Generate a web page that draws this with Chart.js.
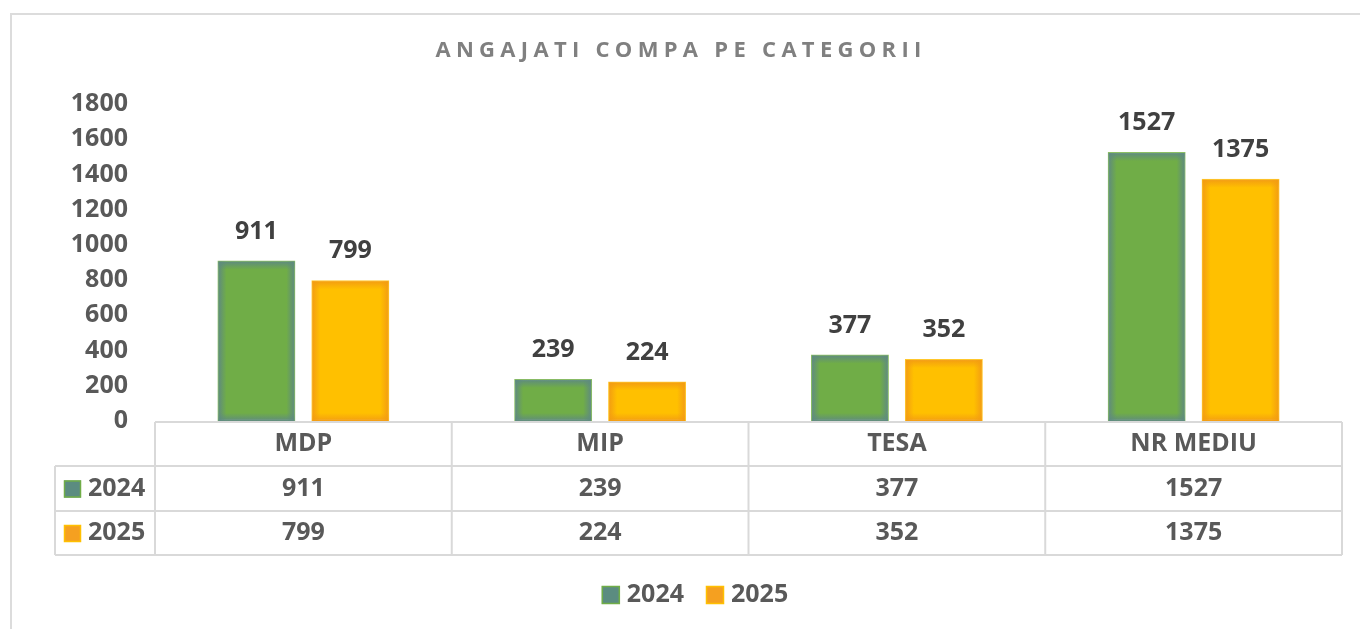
<!DOCTYPE html>
<html><head><meta charset="utf-8">
<script src="https://cdn.jsdelivr.net/npm/chart.js@4.4.1/dist/chart.umd.min.js"></script>
<style>
html,body{margin:0;padding:0;background:#fff;overflow:hidden}
#wrap{position:relative;width:1360px;height:629px;overflow:hidden}
#frame{position:absolute;left:10px;top:13px;width:1400px;height:700px;border:2px solid #dcdcdc;box-sizing:border-box}
canvas{position:absolute;left:0;top:0}
</style></head><body>
<div id="wrap"><div id="frame"></div><canvas id="c" width="1360" height="629"></canvas></div>
<script>
const chartTitle = 'ANGAJATI COMPA PE CATEGORII';
const categories = ['MDP','MIP','TESA','NR MEDIU'];
const seriesNames = ['2024','2025'];
const values2024 = [911,239,377,1527];
const values2025 = [799,224,352,1375];
const yTicks = [0,200,400,600,800,1000,1200,1400,1600,1800];

const FONT = '"Open Sans", sans-serif';
const fill = ['#70AD47','#FFC000'];
const outline = ['#8CC063','#FFC72C'];
const glow = [[94,138,128],[243,156,18]];
const legendFill = ['#5B8C80','#F5A020'];
const legendLine = ['#70AD47','#FFC000'];
const gridCol = '#d9d9d9';

function rgba(c,a){ return `rgba(${c[0]},${c[1]},${c[2]},${a})`; }
function glowBar(ctx,l,t,w,h,c){
  const g = Math.min(8, w/2, h/2);
  const sides = [[l,0,l+g,0,l,t,g,h],[l+w,0,l+w-g,0,l+w-g,t,g,h],[0,t,0,t+g,l,t,w,g],[0,t+h,0,t+h-g,l,t+h-g,w,g]];
  sides.forEach(s=>{
    const gr = ctx.createLinearGradient(s[0],s[1],s[2],s[3]);
    gr.addColorStop(0,rgba(c,0.95)); gr.addColorStop(1,rgba(c,0));
    ctx.fillStyle = gr; ctx.fillRect(s[4],s[5],s[6],s[7]);
  });
}

const extras = {
  id:'extras',
  afterDatasetsDraw(chart){
    const ctx = chart.ctx;
    ctx.save();
    chart.data.datasets.forEach((ds,di)=>{
      chart.getDatasetMeta(di).data.forEach(bar=>{
        const l = bar.x - bar.width/2, t = Math.min(bar.y,bar.base), h = Math.abs(bar.base-bar.y);
        glowBar(ctx,l+1,t+1,bar.width-2,h-1,glow[di]);
      });
    });
    ctx.font = `bold 25px ${FONT}`; ctx.fillStyle = '#404040';
    ctx.textAlign = 'center'; ctx.textBaseline = 'middle';
    chart.data.datasets.forEach((ds,di)=>{
      chart.getDatasetMeta(di).data.forEach((bar,i)=>{
        ctx.fillText(String(ds.data[i]), bar.x, bar.y - 29);
      });
    });
    ctx.restore();
  },
  afterDraw(chart){
    const ctx = chart.ctx, xs = chart.scales.x, area = chart.chartArea;
    const n = categories.length, cw = (xs.right - xs.left)/n;
    const top = area.bottom + 1, rowH = [44,45,44];
    const y1 = top + rowH[0], y2 = y1 + rowH[1], y3 = y2 + rowH[2];
    const leftCol = 55;
    ctx.save();
    // title
    ctx.font = `bold 22px ${FONT}`; ctx.fillStyle = '#808080';
    ctx.letterSpacing = '5.3px'; ctx.textAlign = 'center'; ctx.textBaseline = 'middle';
    ctx.fillText(chartTitle, 681, 51);
    ctx.letterSpacing = '0px';
    // table grid
    ctx.strokeStyle = gridCol; ctx.lineWidth = 2;
    ctx.beginPath();
    ctx.moveTo(xs.left, top); ctx.lineTo(xs.right, top);
    [y1,y2,y3].forEach(y=>{ ctx.moveTo(leftCol,y); ctx.lineTo(xs.right,y); });
    for(let i=0;i<=n;i++){ const x = xs.left + i*cw; ctx.moveTo(x,top); ctx.lineTo(x,y3); }
    ctx.moveTo(leftCol,y1); ctx.lineTo(leftCol,y3);
    ctx.stroke();
    // table text
    ctx.font = `bold 25px ${FONT}`; ctx.fillStyle = '#595959';
    ctx.textAlign = 'center'; ctx.textBaseline = 'middle';
    const rows = [values2024, values2025], rowY = [(y1+y2)/2, (y2+y3)/2];
    categories.forEach((c,i)=>{
      const cx = xs.getPixelForValue(i);
      ctx.fillText(c, cx, (top+y1)/2);
      rows.forEach((r,ri)=> ctx.fillText(String(r[i]), cx, rowY[ri]));
    });
    ctx.textAlign = 'left';
    seriesNames.forEach((s,si)=>{
      const y = rowY[si];
      ctx.fillStyle = legendFill[si]; ctx.fillRect(64, y-8, 17, 17);
      ctx.strokeStyle = legendLine[si]; ctx.lineWidth = 1.5; ctx.strokeRect(64.5, y-7.5, 16, 16);
      ctx.fillStyle = '#595959'; ctx.fillText(s, 88, y);
    });
    // legend
    const ly = 595, gap = 22;
    const widths = seriesNames.map(s=>18 + 7 + ctx.measureText(s).width);
    let lx = 695 - (widths.reduce((a,b)=>a+b,0) + gap)/2;
    seriesNames.forEach((s,si)=>{
      ctx.fillStyle = legendFill[si]; ctx.fillRect(lx, ly-9, 18, 18);
      ctx.strokeStyle = legendLine[si]; ctx.lineWidth = 1.5; ctx.strokeRect(lx+0.5, ly-8.5, 17, 17);
      ctx.fillStyle = '#595959'; ctx.fillText(s, lx+25, ly);
      lx += widths[si] + gap;
    });
    ctx.restore();
  }
};

new Chart(document.getElementById('c'), {
  type:'bar',
  data:{
    labels: categories,
    datasets:[
      { label: seriesNames[0], data: values2024, backgroundColor: fill[0], borderColor: outline[0], borderWidth: 1.5, borderSkipped: false },
      { label: seriesNames[1], data: values2025, backgroundColor: fill[1], borderColor: outline[1], borderWidth: 1.5, borderSkipped: false }
    ]
  },
  options:{
    responsive:false, animation:false,
    categoryPercentage: 0.633, barPercentage: 0.83,
    layout:{ padding:{ top:104, left:10, right:18, bottom:208 } },
    plugins:{ legend:{display:false}, title:{display:false}, tooltip:{enabled:false} },
    scales:{
      x:{ display:false },
      y:{
        min:0, max:1800,
        afterFit: s => { s.width = 145; },
        afterBuildTicks: s => { s.ticks = yTicks.map(v=>({value:v})); },
        grid:{ display:false, drawTicks:false }, border:{ display:false },
        ticks:{ padding:27, color:'#595959', callback: v => String(v), font:{ family:FONT, size:25, weight:'bold' } }
      }
    }
  },
  plugins:[extras]
});
</script>
</body></html>
